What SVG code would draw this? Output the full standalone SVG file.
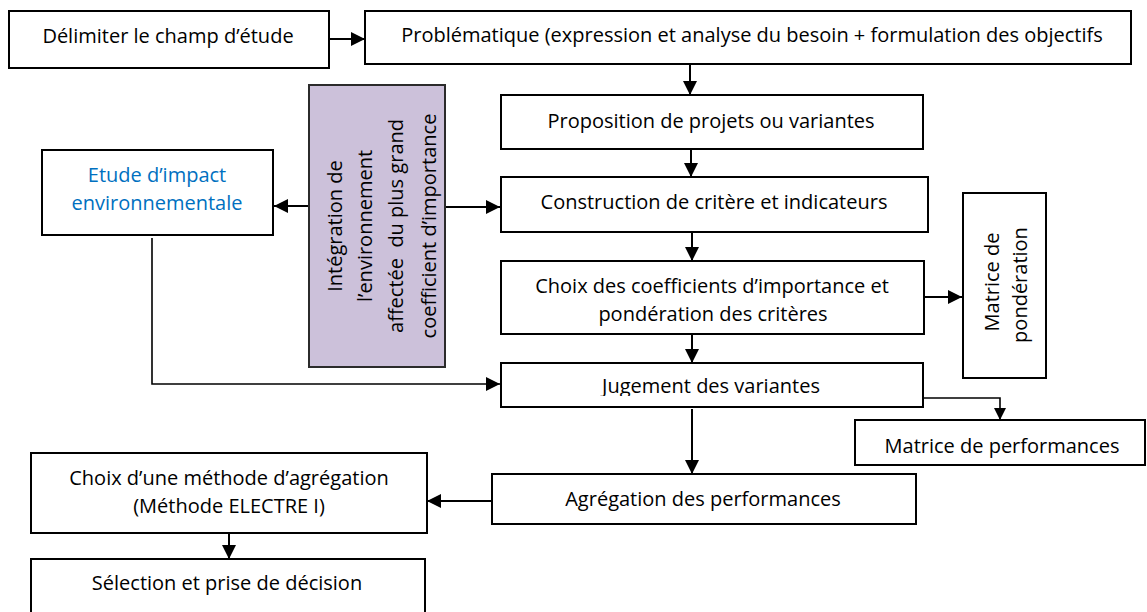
<svg xmlns="http://www.w3.org/2000/svg" width="1147" height="612" viewBox="0 0 1147 612">
  <style>
    .box { fill: #ffffff; stroke: #000000; stroke-width: 2; }
    .accent { fill: #ccc1da; stroke: #2b2b2b; stroke-width: 2; }
    .lbl { font-family: "Open Sans", "Liberation Sans", sans-serif; font-size: 20px; fill: #000000; text-anchor: middle; }
    .blue { fill: #0070c0; }
    .wire { fill: none; stroke: #000000; stroke-width: 2; }
    .thin { stroke-width: 1.6; }
  </style>
  <defs>
    <marker id="head" markerUnits="userSpaceOnUse" viewBox="0 0 14 14" markerWidth="14" markerHeight="14" refX="14" refY="7" orient="auto">
      <path d="M0,0 L14,7 L0,14 Z" fill="#000000"/>
    </marker>
    <marker id="headSmall" markerUnits="userSpaceOnUse" viewBox="0 0 12 12" markerWidth="12" markerHeight="12" refX="12" refY="6" orient="auto">
      <path d="M0,0 L12,6 L0,12 Z" fill="#000000"/>
    </marker>
    <clipPath id="clipJugement">
      <rect x="501" y="363" width="422" height="33"/>
    </clipPath>
  </defs>

  <!-- connectors -->
  <g id="connectors">
    <line class="wire" x1="329" y1="39" x2="365" y2="39" marker-end="url(#head)"/>
    <line class="wire" x1="690" y1="64" x2="690" y2="95" marker-end="url(#head)"/>
    <line class="wire" x1="691" y1="149" x2="691" y2="177" marker-end="url(#head)"/>
    <line class="wire" x1="692" y1="232" x2="692" y2="261" marker-end="url(#head)"/>
    <line class="wire" x1="692" y1="334" x2="692" y2="363" marker-end="url(#head)"/>
    <line class="wire" x1="692" y1="409" x2="692" y2="474" marker-end="url(#head)"/>
    <line class="wire" x1="492" y1="501" x2="427" y2="501" marker-end="url(#head)"/>
    <line class="wire" x1="229" y1="533" x2="229" y2="559" marker-end="url(#head)"/>
    <line class="wire" x1="310" y1="206" x2="274" y2="206" marker-end="url(#head)"/>
    <line class="wire" x1="445" y1="207" x2="500" y2="207" marker-end="url(#head)"/>
    <polyline class="wire thin" points="152,238 152,384 500,384" marker-end="url(#head)"/>
    <line class="wire" x1="924" y1="297" x2="962" y2="297" marker-end="url(#head)"/>
    <polyline class="wire thin" points="923,398 1000,398 1000,420" marker-end="url(#headSmall)"/>
  </g>

  <g id="node-delimiter">
    <rect class="box" x="9" y="11" width="320" height="57"/>
    <text class="lbl" x="168" y="43">Délimiter le champ d’étude</text>
  </g>

  <g id="node-problematique">
    <rect class="box" x="365" y="11" width="766" height="53"/>
    <text class="lbl" x="752" y="42">Problématique (expression et analyse du besoin + formulation des objectifs</text>
  </g>

  <g id="node-proposition">
    <rect class="box" x="501" y="95" width="422" height="54"/>
    <text class="lbl" x="711" y="128">Proposition de projets ou variantes</text>
  </g>

  <g id="node-construction">
    <rect class="box" x="501" y="177" width="427" height="55"/>
    <text class="lbl" x="714" y="209">Construction de critère et indicateurs</text>
  </g>

  <g id="node-coefficients">
    <rect class="box" x="501" y="261" width="423" height="73"/>
    <text class="lbl" x="712" y="293">Choix des coefficients d’importance et</text>
    <text class="lbl" x="713" y="321">pondération des critères</text>
  </g>

  <g id="node-jugement">
    <rect class="box" x="501" y="363" width="422" height="44"/>
    <text class="lbl" x="711" y="393" clip-path="url(#clipJugement)">Jugement des variantes</text>
  </g>

  <g id="node-agregation">
    <rect class="box" x="492" y="474" width="424" height="50"/>
    <text class="lbl" x="703" y="506">Agrégation des performances</text>
  </g>

  <g id="node-methode">
    <rect class="box" x="31" y="453" width="396" height="80"/>
    <text class="lbl" x="229" y="485">Choix d’une méthode d’agrégation</text>
    <text class="lbl" x="229" y="513">(Méthode ELECTRE I)</text>
  </g>

  <g id="node-selection">
    <rect class="box" x="31" y="559" width="394" height="70"/>
    <text class="lbl" x="227" y="590">Sélection et prise de décision</text>
  </g>

  <g id="node-etude-impact">
    <rect class="box" x="42" y="150" width="231" height="85"/>
    <text class="lbl blue" x="157" y="182">Etude d’impact</text>
    <text class="lbl blue" x="157" y="210">environnementale</text>
  </g>

  <g id="node-integration">
    <rect class="accent" x="309" y="85" width="136" height="282"/>
    <g transform="translate(0,226) rotate(-90)">
      <text class="lbl" x="0" y="342">Intégration de</text>
      <text class="lbl" x="0" y="372">l’environnement</text>
      <text class="lbl" x="0" y="403" xml:space="preserve">affectée  du plus grand</text>
      <text class="lbl" x="0" y="436">coefficient d’importance</text>
    </g>
  </g>

  <g id="node-matrice-ponderation">
    <rect class="box" x="963" y="193" width="83" height="185"/>
    <g transform="translate(0,285) rotate(-90)">
      <text class="lbl" x="3" y="999">Matrice de</text>
      <text class="lbl" x="0" y="1027">pondération</text>
    </g>
  </g>

  <g id="node-matrice-performances">
    <rect class="box" x="855" y="420" width="290" height="45"/>
    <text class="lbl" x="1002" y="453">Matrice de performances</text>
  </g>
</svg>
